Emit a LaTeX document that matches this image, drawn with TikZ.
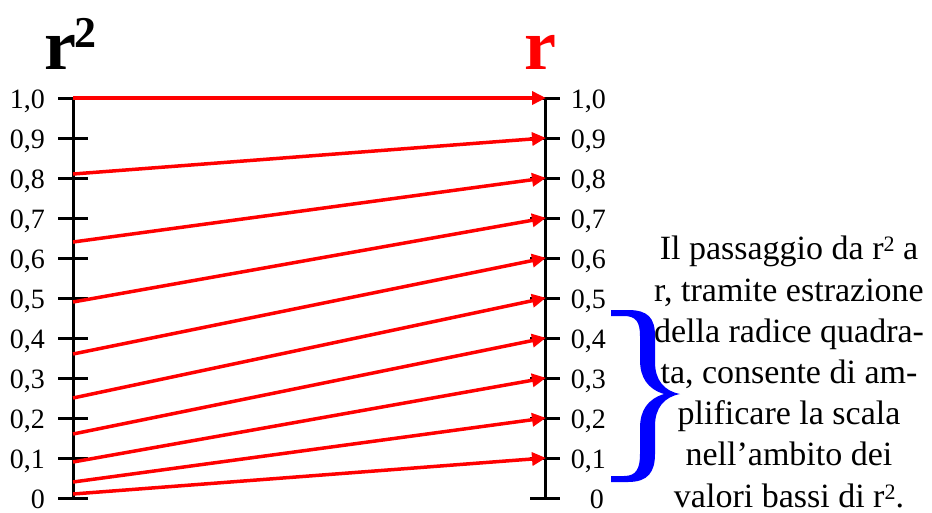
\documentclass[tikz,border=0pt]{standalone}
\usepackage{fontspec}
\setmainfont{Liberation Serif}
\usetikzlibrary{arrows.meta}
\begin{document}
\begin{tikzpicture}[x=1pt,y=-1pt,
  axis/.style={line width=3pt, black},
  tick/.style={line width=3pt, black},
  conn/.style={line width=3.5pt, red, -{Triangle[length=14pt,width=13pt]}, shorten >=-1pt},
  lab/.style={font=\fontsize{28}{28}\selectfont, inner sep=0pt},
  ttl/.style={font=\bfseries\fontsize{72}{72}\selectfont, inner sep=0pt, anchor=base west},
  note/.style={align=center, font=\fontsize{34}{41.2}\selectfont, inner sep=0pt},
  bracefill/.style={fill=blue, draw=none}
  ]
\path[use as bounding box, fill=white] (0,0) rectangle (932,512);
% axes
\coordinate (LA0) at (73,498); \coordinate (LA1) at (73,98);
\coordinate (RA0) at (545,498); \coordinate (RA1) at (545,98);
\draw[axis] (LA0) -- (LA1);
\draw[axis] (RA0) -- (RA1);
% ticks and labels
\foreach \i in {0,...,10} {
  \pgfmathsetmacro\yy{498-40*\i}
  \coordinate (tl\i) at (58,\yy); \coordinate (tr\i) at (88,\yy);
  \coordinate (ul\i) at (530,\yy); \coordinate (ur\i) at (560,\yy);
  \draw[tick] (tl\i) -- (tr\i);
  \draw[tick] (ul\i) -- (ur\i);
  \ifnum\i=0
    \node[lab, anchor=base east] (ll\i) at (45,\yy+10) {0};
    \node[lab, anchor=base east] (rl\i) at (604,\yy+10) {0};
  \else\ifnum\i=10
    \node[lab, anchor=base east] (ll\i) at (45,\yy+10) {1,0};
    \node[lab, anchor=base east] (rl\i) at (606,\yy+10) {1,0};
  \else
    \node[lab, anchor=base east] (ll\i) at (45,\yy+10) {0,\i};
    \node[lab, anchor=base east] (rl\i) at (606,\yy+10) {0,\i};
  \fi\fi
}
% connectors r^2 -> r
\foreach \i in {1,...,10} {
  \pgfmathsetmacro\yl{498-400*(\i/10)^2}
  \pgfmathsetmacro\yr{498-40*\i}
  \coordinate (cl\i) at (73,\yl);
  \coordinate (cr\i) at (545,\yr);
  \draw[conn] (cl\i) -- (cr\i);
}
% titles
\node[ttl] (t1) at (44,69) {r\kern-2pt\raisebox{22pt}{\fontsize{44}{44}\selectfont 2}};
\node[ttl, red] (t2) at (524,69) {r};
% brace
\fill[bracefill] (611,310) -- (628,310)
  .. controls (648,310) and (655,318) .. (655,336) -- (655,362)
  .. controls (655,380) and (664,391) .. (680,394)
  .. controls (664,397) and (655,408) .. (655,426) -- (655,454)
  .. controls (655,472) and (648,482) .. (628,482) -- (611,482) -- (611,476) -- (624,476)
  .. controls (636,476) and (640,469) .. (640,454) -- (640,428)
  .. controls (640,410) and (648,399) .. (664,394)
  .. controls (648,389) and (640,378) .. (640,360) -- (640,336)
  .. controls (640,322) and (636,316) .. (624,316) -- (611,316) -- cycle;
\coordinate (brace) at (646,395);
% note
\node[note] (txt) at (789,372) {Il passaggio da r\raisebox{8pt}{\fontsize{22}{22}\selectfont 2} a\\ r, tramite estrazione\\ della radice quadra-\\ ta, consente di am-\\ plificare la scala\\ nell'ambito dei\\ valori bassi di r\raisebox{8pt}{\fontsize{22}{22}\selectfont 2}.};
\end{tikzpicture}
\end{document}
